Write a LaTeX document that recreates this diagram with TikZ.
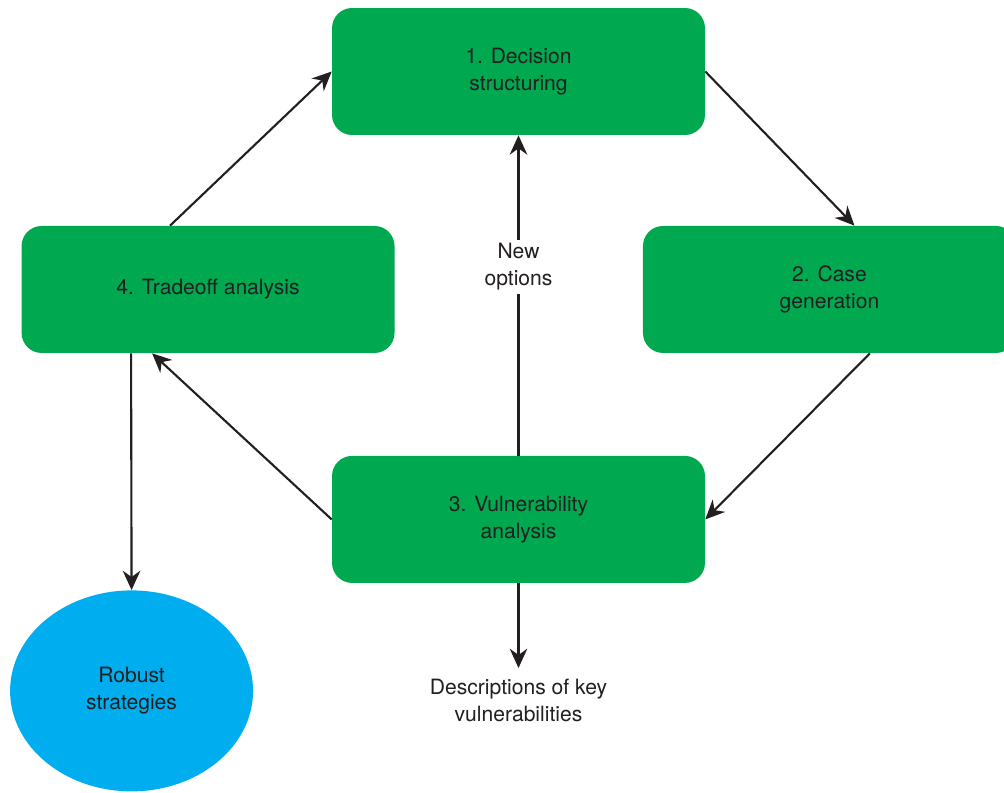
\documentclass[tikz,border=0pt]{standalone}
\usepackage{fontspec}
\setmainfont{TeX Gyre Heros}
\usetikzlibrary{positioning,arrows.meta,shapes.geometric}
\definecolor{stepgreen}{RGB}{0,169,79}
\definecolor{robustblue}{RGB}{0,174,239}
\definecolor{inkdark}{RGB}{35,31,32}
\begin{document}
\begin{tikzpicture}[x=0.02cm, y=-0.02cm, on grid, every node/.style={font=\fontsize{12}{15.4}\selectfont, text=inkdark, align=center},
phase/.style={rectangle, rounded corners=0.4cm, fill=stepgreen, minimum width=7.46cm, minimum height=2.54cm},
outcome/.style={ellipse, fill=robustblue, minimum width=4.86cm, minimum height=4.02cm, inner sep=0pt},
flow/.style={-{Stealth[length=11pt, width=10pt]}, line width=1.2pt, draw=inkdark}]
\clip (0,0) rectangle (1004,792);
\node [phase] (decision) at (518.5,71.5) {1. Decision\\structuring};
\node [phase] (tradeoff) [below left=4.36cm and 6.21cm of decision] {4. Tradeoff analysis};
\node [phase] (cases) [below right=4.36cm and 6.22cm of decision] {2. Case\\generation};
\node [phase] (vuln) [below=8.96cm of decision] {3. Vulnerability\\analysis};
\node [outcome] (robust) [below left=8.03cm and 1.53cm of tradeoff] {Robust\\strategies};
\node (descr) [below=3.63cm of vuln] {Descriptions of key\\vulnerabilities};
\draw [flow] ([xshift=-0.76cm]tradeoff.north) -- (decision.west);
\draw [flow] (decision.east) -- ([xshift=0.5cm]cases.north);
\draw [flow] ([xshift=0.81cm]cases.south) -- (vuln.east);
\draw [flow] (vuln.west) -- ([xshift=-1.12cm]tradeoff.south);
\draw [flow] (vuln.north) -- node [pos=0.59, fill=white, inner sep=2pt] {New\\options} (decision.south);
\draw [flow] ([xshift=-1.54cm]tradeoff.south) -- (robust.north);
\draw [flow] (vuln.south) -- ([yshift=3pt]descr.north);
\end{tikzpicture}
\end{document}
